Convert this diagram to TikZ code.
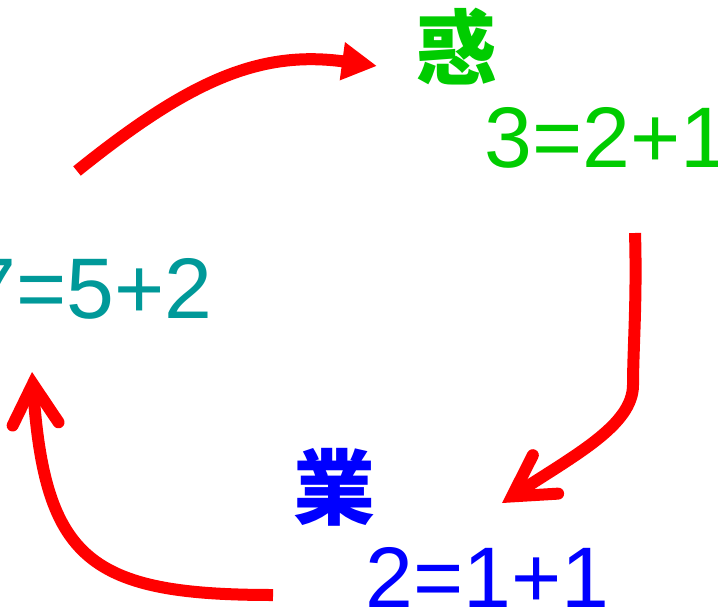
\documentclass[tikz,border=0pt]{standalone}
\usepackage{fontspec}
\setmainfont{Liberation Sans}
\newfontfamily\cjk{Noto Sans CJK SC}
\usetikzlibrary{arrows.meta}
\definecolor{cgreen}{RGB}{0,204,0}
\definecolor{cteal}{RGB}{0,153,153}
\definecolor{cblue}{RGB}{0,0,255}
\definecolor{cred}{RGB}{255,0,0}
\begin{document}
\begin{tikzpicture}[x=1pt,y=-1pt,
  num/.style={inner sep=0pt, anchor=base west, font=\fontsize{86}{92}\selectfont},
  kanji/.style={inner sep=0pt, anchor=center, font=\cjk\bfseries\fontsize{82}{90}\selectfont},
  flow/.style={draw=cred, line width=12pt},
  barb/.style={-{Straight Barb[length=40pt,width=46pt,line cap=round,line join=miter]}},
  tri/.style={-{Triangle[length=35pt,width=36pt]}, fill=none}]
\useasboundingbox (0,0) rectangle (718,608);
\clip (0,0) rectangle (718,608);
% texts
\node[num, text=cteal] (n7) at (-32,318) {7=5+2};
\node[num, text=cgreen] (n3) at (484,167) {3=2+1};
\node[num, text=cblue] (n2) at (365,607) {2=1+1};
\node[kanji, text=cgreen] (k1) at (456,47) {惑};
\node[kanji, text=cblue] (k2) at (334,487) {業};
% connector ends
\coordinate (a1s) at (77,171);
\coordinate (a1e) at (377,66);
\coordinate (a2s) at (635,233);
\coordinate (a2m) at (633,385);
\coordinate (a2e) at (502,503);
\coordinate (a3s) at (273,595);
\coordinate (a3e) at (32,372);
% arrows
\draw[flow, tri] (a1s) .. controls (190,80) and (260,50) .. (a1e);
\draw[flow, barb] (a2s) .. controls (637,300) and (633,350) .. (a2m)
   .. controls (633,425) and (575,455) .. (a2e);
\draw[flow, barb] (a3s) .. controls (90,595) and (45,560) .. (a3e);
\end{tikzpicture}
\end{document}
